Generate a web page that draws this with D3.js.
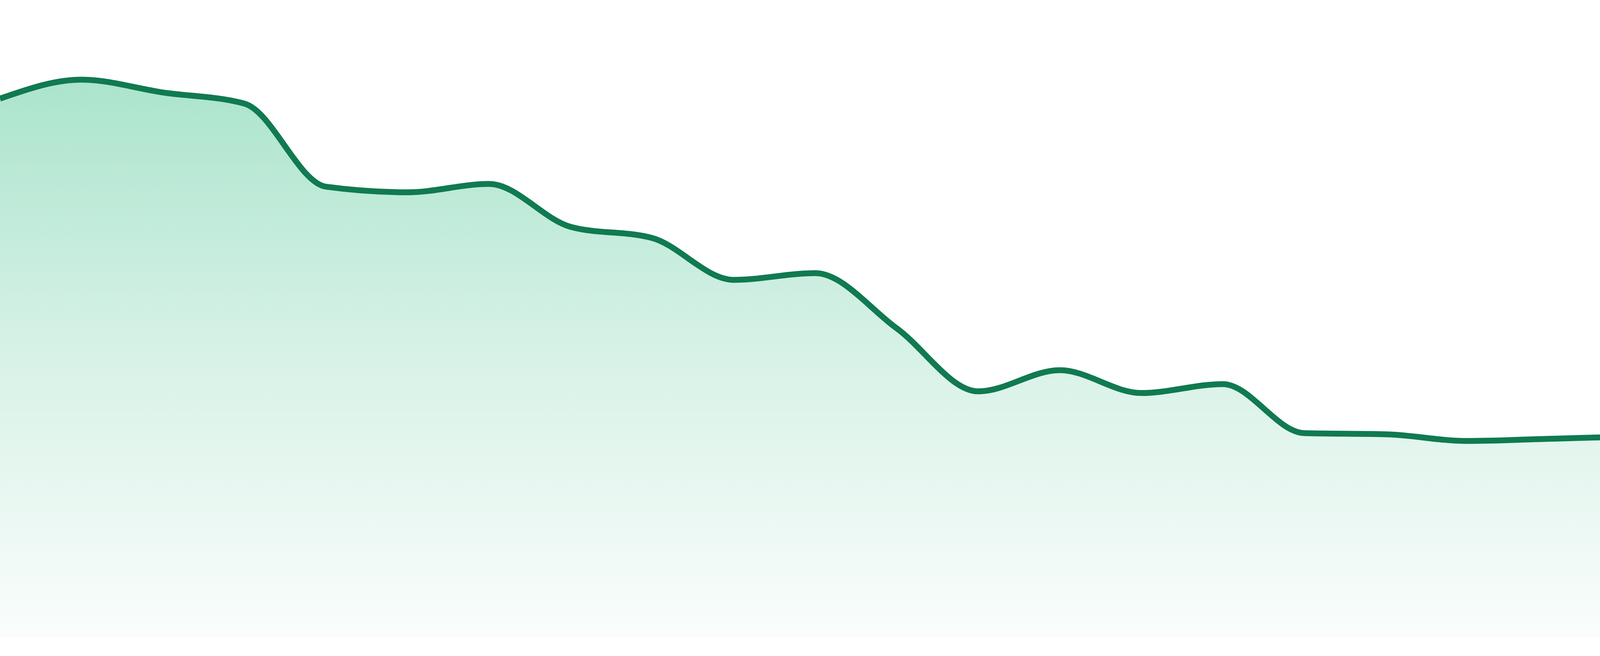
<!DOCTYPE html>
<html>
<head>
<meta charset="utf-8">
<script src="https://cdn.jsdelivr.net/npm/d3@7"></script>
<style>
  html, body { margin: 0; padding: 0; background: #ffffff; overflow: hidden; }
  svg { display: block; }
</style>
</head>
<body>
<svg id="chart" width="4800" height="1680"></svg>
<script>
// ---- data ----
const categories = ["1","2","3","4","5","6","7","8","9","10","11","12",
                    "13","14","15","16","17","18","19","20","21","22","23","24"];
const values = [96.6, 100.0, 97.7, 95.7, 80.8, 79.8, 81.3, 73.6, 71.6, 64.1, 65.3, 55.4,
                44.1, 47.9, 43.8, 45.4, 36.6, 36.4, 35.2, 35.6, 35.9, 34.2, 33.5, 29.0];
const yDomain = [0, 100];

// ---- layout ----
const W = 4800, H = 1680;
const plotTop = 204, plotBottom = 1632;

const svg = d3.select("#chart");

const x = d3.scalePoint().domain(categories).range([0, W]);
const y = d3.scaleLinear().domain(yDomain).range([plotBottom, plotTop]);

const data = categories.map((c, i) => ({ c, v: values[i] }));

const defs = svg.append("defs");
const grad = defs.append("linearGradient")
  .attr("id", "fillGrad")
  .attr("gradientUnits", "userSpaceOnUse")
  .attr("x1", 0).attr("x2", 0)
  .attr("y1", y(yDomain[1])).attr("y2", y(yDomain[0]));
grad.append("stop").attr("offset", "0%").attr("stop-color", "#abe4cd");
grad.append("stop").attr("offset", "50%").attr("stop-color", "#d8f2e7");
grad.append("stop").attr("offset", "100%").attr("stop-color", "#fafdfc");

const area = d3.area()
  .x(d => x(d.c))
  .y0(y(0))
  .y1(d => y(d.v))
  .curve(d3.curveMonotoneX);

const line = d3.line()
  .x(d => x(d.c))
  .y(d => y(d.v))
  .curve(d3.curveMonotoneX);

svg.append("path")
  .datum(data)
  .attr("d", area)
  .attr("fill", "url(#fillGrad)");

svg.append("path")
  .datum(data)
  .attr("d", line)
  .attr("fill", "none")
  .attr("stroke", "#107a50")
  .attr("stroke-width", 15)
  .attr("stroke-linejoin", "round");
</script>
</body>
</html>
